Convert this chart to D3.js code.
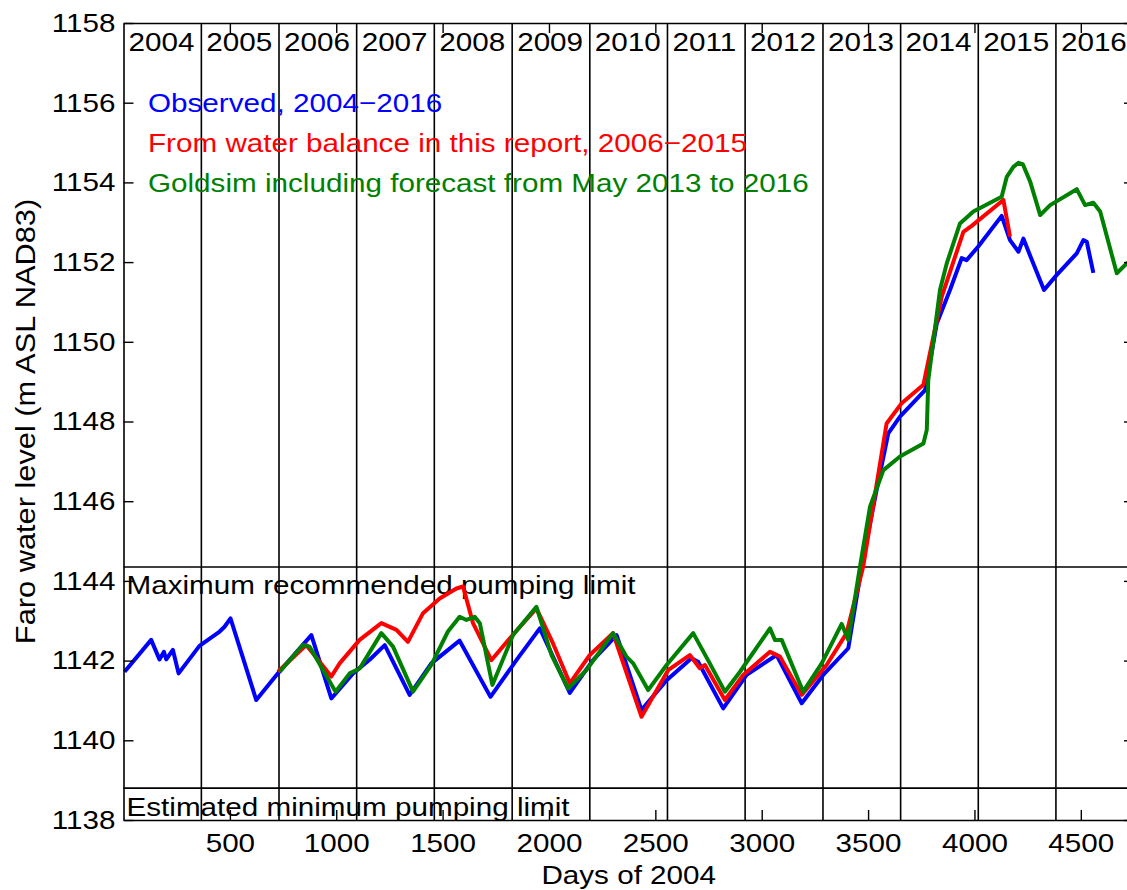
<!DOCTYPE html>
<html>
<head>
<meta charset="utf-8">
<script src="https://cdn.jsdelivr.net/npm/d3@7"></script>
<style>
  html, body { margin: 0; padding: 0; background: #fff; overflow: hidden; }
  svg { display: block; font-family: "Liberation Sans", Arial, sans-serif; }
</style>
</head>
<body>
<svg id="chart"></svg>
<script>
// Chart size = browser window
const width = 1127;
const height = 890;

// Observed levels (days since 1 Jan 2004, m ASL)
const obsDay = [5, 130, 169, 190, 201, 232, 259, 357, 452, 475, 503, 624, 726, 883, 977, 1079, 1157,
  1228, 1345, 1447, 1580, 1725, 1847, 1957, 2098, 2207, 2318, 2435, 2553, 2670, 2701, 2819, 2929,
  3070, 3188, 3289, 3407, 3470, 3540, 3595, 3650, 3768, 3823, 3885, 3940, 3963, 4018, 4128, 4167,
  4207, 4230, 4270, 4327, 4387, 4481, 4512, 4528, 4559];
const obsLevel = [1141.72, 1142.52, 1142.03, 1142.22, 1142.03, 1142.27, 1141.68, 1142.37, 1142.73, 1142.85, 1143.06, 1141.01, 1141.68, 1142.64, 1141.05, 1141.68, 1142.02,
  1142.39, 1141.14, 1141.93, 1142.50, 1141.09, 1142.01, 1142.81, 1141.19, 1142.01, 1142.64, 1140.76, 1141.51, 1142.06, 1141.97, 1140.80, 1141.64,
  1142.14, 1140.93, 1141.64, 1142.31, 1144.36, 1146.28, 1147.70, 1148.12, 1148.79, 1150.46, 1151.30, 1152.10, 1152.05, 1152.39, 1153.16, 1152.55,
  1152.26, 1152.59, 1152.05, 1151.30, 1151.68, 1152.22, 1152.55, 1152.51, 1151.73];

// Water balance in this report, 2006-2015
const wbDay = [726, 859, 977, 1016, 1110, 1212, 1283, 1337, 1408, 1486, 1565, 1596, 1643, 1729, 1816, 1941,
  2019, 2098, 2192, 2301, 2435, 2560, 2662, 2709, 2733, 2827, 2913, 3039, 3086, 3188, 3305, 3399,
  3477, 3587, 3658, 3760, 3846, 3948, 3987, 4136, 4167];
const wbLevel = [1141.72, 1142.39, 1141.60, 1141.93, 1142.52, 1142.94, 1142.77, 1142.47, 1143.19, 1143.56, 1143.81, 1143.86, 1142.94, 1142.01, 1142.56, 1143.31,
  1142.43, 1141.43, 1142.14, 1142.69, 1140.59, 1141.76, 1142.14, 1141.81, 1141.89, 1141.01, 1141.64, 1142.22, 1142.10, 1141.14, 1141.89, 1142.69,
  1144.36, 1147.95, 1148.46, 1148.92, 1151.13, 1152.76, 1152.91, 1153.56, 1152.64];

// Goldsim incl. forecast
const gsDay = [734, 843, 875, 997, 1063, 1110, 1212, 1267, 1361, 1447, 1525, 1580, 1612, 1651, 1675, 1734,
  1831, 1941, 2012, 2090, 2176, 2301, 2364, 2396, 2466, 2553, 2678, 2756, 2827, 2898, 3039, 3062,
  3094, 3195, 3282, 3376, 3407, 3462, 3509, 3572, 3650, 3760, 3776, 3783, 3838, 3870, 3932, 3995,
  4128, 4152, 4183, 4207, 4227, 4262, 4309, 4356, 4481, 4520, 4559, 4591, 4669, 4716, 4750];
const gsLevel = [1141.72, 1142.39, 1142.35, 1141.22, 1141.68, 1141.80, 1142.69, 1142.35, 1141.22, 1141.89, 1142.73, 1143.10, 1143.02, 1143.10, 1142.94, 1141.39,
  1142.64, 1143.35, 1142.14, 1141.30, 1141.76, 1142.69, 1142.10, 1141.93, 1141.26, 1141.89, 1142.69, 1141.93, 1141.22, 1141.72, 1142.81, 1142.52,
  1142.52, 1141.22, 1141.93, 1142.92, 1142.52, 1144.36, 1145.86, 1146.78, 1147.12, 1147.45, 1147.79, 1149.04, 1151.30, 1151.97, 1152.97, 1153.27,
  1153.64, 1154.14, 1154.39, 1154.49, 1154.46, 1154.02, 1153.18, 1153.43, 1153.83, 1153.43, 1153.49, 1153.27, 1151.72, 1151.97, 1152.05];

const years = [2004, 2005, 2006, 2007, 2008, 2009, 2010, 2011, 2012, 2013, 2014, 2015, 2016];
const xTicks = [500, 1000, 1500, 2000, 2500, 3000, 3500, 4000, 4500];
const yTicks = [1138, 1140, 1142, 1144, 1146, 1148, 1150, 1152, 1154, 1156, 1158];
const maxLimit = 1144.35;
const minLimit = 1138.8;

const legendText = ["Observed, 2004\u22122016", "From water balance in this report, 2006\u22122015",
  "Goldsim including forecast from May 2013 to 2016"];
const colors = ["#0000ff", "#ff0000", "#008000"];

const margin = { top: 23, right: -7, bottom: 70, left: 123.5 };

const svg = d3.select("#chart")
    .attr("width", width)
    .attr("height", height);

const x = d3.scaleLinear().domain([0, 4750]).range([margin.left, width - margin.right]);
const y = d3.scaleLinear().domain([1138, 1158]).range([height - margin.bottom, margin.top]);

// year boundary lines
const start = new Date(2004, 0, 1);
const yearDays = years.map(yr => d3.timeDay.count(start, new Date(yr, 0, 1)));

svg.selectAll("line.year")
    .data(yearDays.slice(1))
    .enter()
    .append("line")
    .attr("class", "year")
    .attr("x1", d => x(d)).attr("x2", d => x(d))
    .attr("y1", y(1158)).attr("y2", y(1138))
    .attr("stroke", "#000")
    .attr("stroke-width", 1.6);

svg.selectAll("text.year")
    .data(years)
    .enter()
    .append("text")
    .attr("class", "year")
    .attr("x", (d, i) => x(yearDays[i]) + 5)
    .attr("y", y(1158) + 28)
    .attr("font-size", 26)
    .text(d => d);

// pumping limits
[maxLimit, minLimit].forEach(v => {
  svg.append("line")
      .attr("x1", x(0)).attr("x2", x(4750))
      .attr("y1", y(v)).attr("y2", y(v))
      .attr("stroke", "#000")
      .attr("stroke-width", 1.6);
});
svg.append("text")
    .attr("x", x(0) + 3)
    .attr("y", y(maxLimit) + 27)
    .attr("font-size", 26)
    .text("Maximum recommended pumping limit");
svg.append("text")
    .attr("x", x(0) + 3)
    .attr("y", y(minLimit) + 28)
    .attr("font-size", 26)
    .text("Estimated minimum pumping limit");

// series lines
const line = d3.line().x(d => x(d[0])).y(d => y(d[1]));
const series = [
  d3.zip(obsDay, obsLevel),
  d3.zip(wbDay, wbLevel),
  d3.zip(gsDay, gsLevel)
];
series.forEach((s, i) => {
  svg.append("path")
      .datum(s)
      .attr("d", line)
      .attr("fill", "none")
      .attr("stroke", colors[i])
      .attr("stroke-width", 4)
      .attr("stroke-linejoin", "round");
});

// legend texts
svg.selectAll("text.legend")
    .data(legendText)
    .enter()
    .append("text")
    .attr("class", "legend")
    .attr("x", 148)
    .attr("y", (d, i) => 112 + i * 40)
    .attr("font-size", 26)
    .attr("fill", (d, i) => colors[i])
    .text(d => d);

// axes box with inward ticks on all sides
const fmt = d3.format("d");
svg.append("g")
    .attr("transform", `translate(0,${y(1138)})`)
    .call(d3.axisBottom(x).tickValues(xTicks).tickSizeInner(-10).tickSizeOuter(0).tickPadding(14).tickFormat(fmt));
svg.append("g")
    .attr("transform", `translate(0,${y(1158)})`)
    .call(d3.axisTop(x).tickValues(xTicks).tickSizeInner(-10).tickSizeOuter(0).tickFormat(""));
svg.append("g")
    .attr("transform", `translate(${x(0)},0)`)
    .call(d3.axisLeft(y).tickValues(yTicks).tickSizeInner(-10).tickSizeOuter(0).tickPadding(8).tickFormat(fmt));
svg.append("g")
    .attr("transform", `translate(${x(4750)},0)`)
    .call(d3.axisRight(y).tickValues(yTicks).tickSizeInner(-10).tickSizeOuter(0).tickFormat(""));

svg.selectAll(".domain").attr("stroke", "#000").attr("stroke-width", 1.6);
svg.selectAll(".tick line").attr("stroke", "#000").attr("stroke-width", 1.4);
svg.selectAll(".tick text")
    .attr("font-size", 26)
    .attr("font-family", "Liberation Sans, Arial, sans-serif")
    .attr("fill", "#000");

// axis titles
svg.append("text")
    .attr("x", (x(0) + x(4750)) / 2)
    .attr("y", 884)
    .attr("text-anchor", "middle")
    .attr("font-size", 26)
    .text("Days of 2004");

svg.append("text")
    .attr("transform", `translate(35,${(y(1138) + y(1158)) / 2}) rotate(-90)`)
    .attr("text-anchor", "middle")
    .attr("font-size", 27)
    .text("Faro water level (m ASL NAD83)");

// the original lettering is a little wider than Liberation Sans
svg.selectAll("text").each(function() {
  const len = this.getComputedTextLength();
  d3.select(this)
      .attr("textLength", len * 1.14)
      .attr("lengthAdjust", "spacingAndGlyphs");
});
</script>
</body>
</html>
